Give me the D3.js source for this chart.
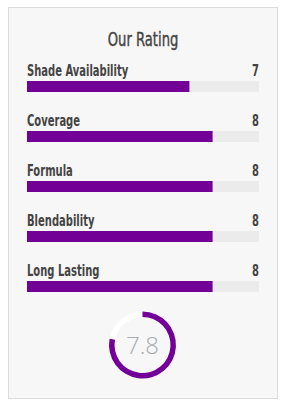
<!DOCTYPE html>
<html>
<head>
<meta charset="utf-8">
<script src="https://cdn.jsdelivr.net/npm/d3@7"></script>
<style>
  body { margin: 0; background: #fff; }
  svg { display: block; }
</style>
</head>
<body>
<svg id="chart"></svg>
<script>
// Chart data
const categories = ["Shade Availability", "Coverage", "Formula", "Blendability", "Long Lasting"];
const scores = [7, 8, 8, 8, 8];
const overall = 7.8;
const maxScore = 10;

const width = 287;
const height = 413;
const purple = "#720096";
const textColor = "#444";
// No Oswald here, so squeeze a condensed face horizontally
const labelFont = "'DejaVu Sans Condensed', 'DejaVu Sans', sans-serif";
const squeeze = 0.74;

const svg = d3.select("#chart")
    .attr("width", width)
    .attr("height", height);

// Panel box
svg.append("rect")
    .attr("x", 8.5)
    .attr("y", 7.5)
    .attr("width", 269)
    .attr("height", 391)
    .attr("fill", "#f7f7f7")
    .attr("stroke", "#dcdcdc");

svg.append("g")
    .attr("transform", `translate(143,46) scale(0.75,1)`)
    .append("text")
    .attr("text-anchor", "middle")
    .attr("font-family", labelFont)
    .attr("font-size", 19.5)
    .attr("fill", textColor)
    .attr("stroke", textColor)
    .attr("stroke-width", 0.4)
    .text("Our Rating");

// Scales
const x = d3.scaleLinear().domain([0, maxScore]).range([27, 259]);
const y = d3.scalePoint().domain(categories).range([81, 281]);
const barH = 11;

const rows = svg.selectAll("g.row")
    .data(categories)
    .enter()
    .append("g")
    .attr("class", "row")
    .attr("transform", d => `translate(0,${y(d)})`);

// Track
rows.append("rect")
    .attr("x", x(0))
    .attr("width", x(maxScore) - x(0))
    .attr("height", barH)
    .attr("fill", "#ebebeb");

// Filled bar
rows.append("rect")
    .attr("x", x(0))
    .attr("width", (d, i) => x(scores[i]) - x(0))
    .attr("height", barH)
    .attr("fill", purple);

rows.append("g")
    .attr("transform", `translate(${x(0)},-5) scale(${squeeze},1)`)
    .append("text")
    .attr("font-family", labelFont)
    .attr("font-size", 15)
    .attr("font-weight", "bold")
    .attr("fill", textColor)
    .text(d => d);

rows.append("g")
    .attr("transform", `translate(${x(maxScore)},-5) scale(${squeeze},1)`)
    .append("text")
    .attr("text-anchor", "end")
    .attr("font-family", labelFont)
    .attr("font-size", 15)
    .attr("font-weight", "bold")
    .attr("fill", textColor)
    .text((d, i) => scores[i]);

// Overall score donut
const cx = 142.5, cy = 345;
const outerR = 33.5, innerR = 28;
const arc = d3.arc().innerRadius(innerR).outerRadius(outerR);
const donut = svg.append("g").attr("transform", `translate(${cx},${cy})`);

donut.append("path")
    .attr("d", arc({ startAngle: 0, endAngle: 2 * Math.PI }))
    .attr("fill", "#fff");

donut.append("path")
    .attr("d", arc({ startAngle: 0, endAngle: 2 * Math.PI * overall / maxScore }))
    .attr("fill", purple);

donut.append("text")
    .attr("text-anchor", "middle")
    .attr("y", 8.5)
    .attr("font-family", "'Open Sans', sans-serif")
    .attr("font-weight", 300)
    .attr("font-size", 24)
    .attr("fill", "#a8acb0")
    .text(overall);
</script>
</body>
</html>
